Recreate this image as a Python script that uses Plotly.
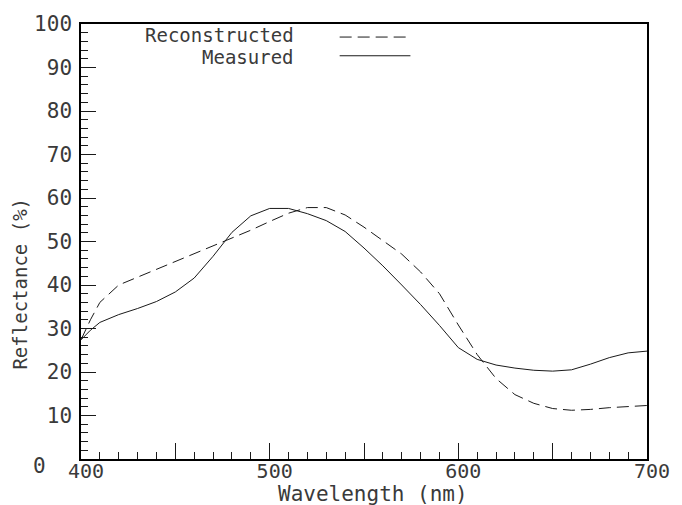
import plotly.graph_objects as go

# ---- data ----
wavelength = [400, 405, 410, 420, 430, 440, 450, 460, 470, 480, 490, 500, 510, 520, 530,
              540, 550, 560, 570, 580, 590, 600, 610, 620, 630, 640, 650, 660, 670, 680, 690, 700]
measured = [27.4, 29.6, 31.4, 33.2, 34.6, 36.2, 38.4, 41.6, 46.6, 52.1, 55.9, 57.6, 57.6, 56.4, 54.8,
            52.3, 48.5, 44.4, 40.0, 35.5, 30.7, 25.6, 22.9, 21.6, 20.9, 20.4, 20.2, 20.5, 21.8, 23.3, 24.4, 24.8]
reconstructed = [27.4, 32.0, 36.0, 40.0, 41.8, 43.6, 45.4, 47.2, 49.1, 50.9, 52.6, 54.6, 56.5, 57.8, 57.8,
                 56.1, 53.3, 50.2, 47.1, 43.0, 38.0, 30.8, 24.0, 18.5, 14.8, 12.8, 11.6, 11.2, 11.4, 11.8, 12.1, 12.3]

x_tickvals = [400, 450, 500, 550, 600, 650, 700]
x_ticktext = ["400", "", "500", "", "600", "", "700"]
y_tickvals = [10, 20, 30, 40, 50, 60, 70, 80, 90, 100]
y_ticktext = ["10", "20", "30", "40", "50", "60", "70", "80", "90", "100"]

series_names = ["Reconstructed", "Measured"]

FONT = "DejaVu Sans Mono"
INK = "#1a1a1a"
TXT = "#3a3a3a"

fig = go.Figure()
fig.add_trace(go.Scatter(x=wavelength, y=reconstructed, mode="lines", name=series_names[0],
                         line=dict(color=INK, width=1, dash="12px,6px"), showlegend=False))
fig.add_trace(go.Scatter(x=wavelength, y=measured, mode="lines", name=series_names[1],
                         line=dict(color=INK, width=1), showlegend=False))

fig.update_xaxes(range=[400, 700], showline=True, linecolor="black", linewidth=1.5, mirror=True,
                 showgrid=False, zeroline=False,
                 tickmode="array", tickvals=x_tickvals, ticktext=x_ticktext,
                 ticks="inside", ticklen=16, tickwidth=1, tickcolor=INK,
                 minor=dict(dtick=10, ticks="inside", ticklen=7, tickwidth=1, tickcolor=INK, showgrid=False),
                 tickfont=dict(family=FONT, size=20, color=TXT),
                 ticklabelshift=5, ticklabelstandoff=-7)
fig.update_yaxes(range=[0, 100], showline=True, linecolor="black", linewidth=1.5, mirror=True,
                 showgrid=False, zeroline=False,
                 tickmode="array", tickvals=y_tickvals, ticktext=y_ticktext,
                 ticks="inside", ticklen=15, tickwidth=1, tickcolor=INK,
                 minor=dict(dtick=2, ticks="inside", ticklen=7, tickwidth=1, tickcolor=INK, showgrid=False),
                 tickfont=dict(family=FONT, size=21, color=TXT),
                 ticklabelstandoff=3)

annotations = [
    dict(text="0", x=-0.073, y=-0.016, xref="paper", yref="paper", showarrow=False,
         font=dict(family=FONT, size=21, color=TXT), xanchor="center", yanchor="middle"),
    dict(text="Wavelength (nm)", x=0.516, y=-0.081, xref="paper", yref="paper", showarrow=False,
         font=dict(family=FONT, size=21, color=TXT), xanchor="center", yanchor="middle"),
    dict(text="Reflectance (%)", x=-0.108, y=0.403, xref="paper", yref="paper", showarrow=False,
         textangle=-90, font=dict(family=FONT, size=19, color=TXT), xanchor="center", yanchor="middle"),
    dict(text=series_names[0], x=0.379, y=0.975, xref="paper", yref="paper", showarrow=False,
         font=dict(family=FONT, size=19, color=TXT), xanchor="right", yanchor="middle"),
    dict(text=series_names[1], x=0.379, y=0.925, xref="paper", yref="paper", showarrow=False,
         font=dict(family=FONT, size=19, color=TXT), xanchor="right", yanchor="middle"),
]
shapes = [
    dict(type="line", xref="paper", yref="paper", x0=0.457, x1=0.582, y0=0.970, y1=0.970,
         line=dict(color=INK, width=1, dash="12px,6px")),
    dict(type="line", xref="paper", yref="paper", x0=0.457, x1=0.582, y0=0.927, y1=0.927,
         line=dict(color=INK, width=1)),
]

fig.update_layout(width=682, height=505, margin=dict(l=81, r=30, t=20, b=46),
                  plot_bgcolor="white", paper_bgcolor="white",
                  annotations=annotations, shapes=shapes)

fig.write_html("out.html", config={"displayModeBar": False})
